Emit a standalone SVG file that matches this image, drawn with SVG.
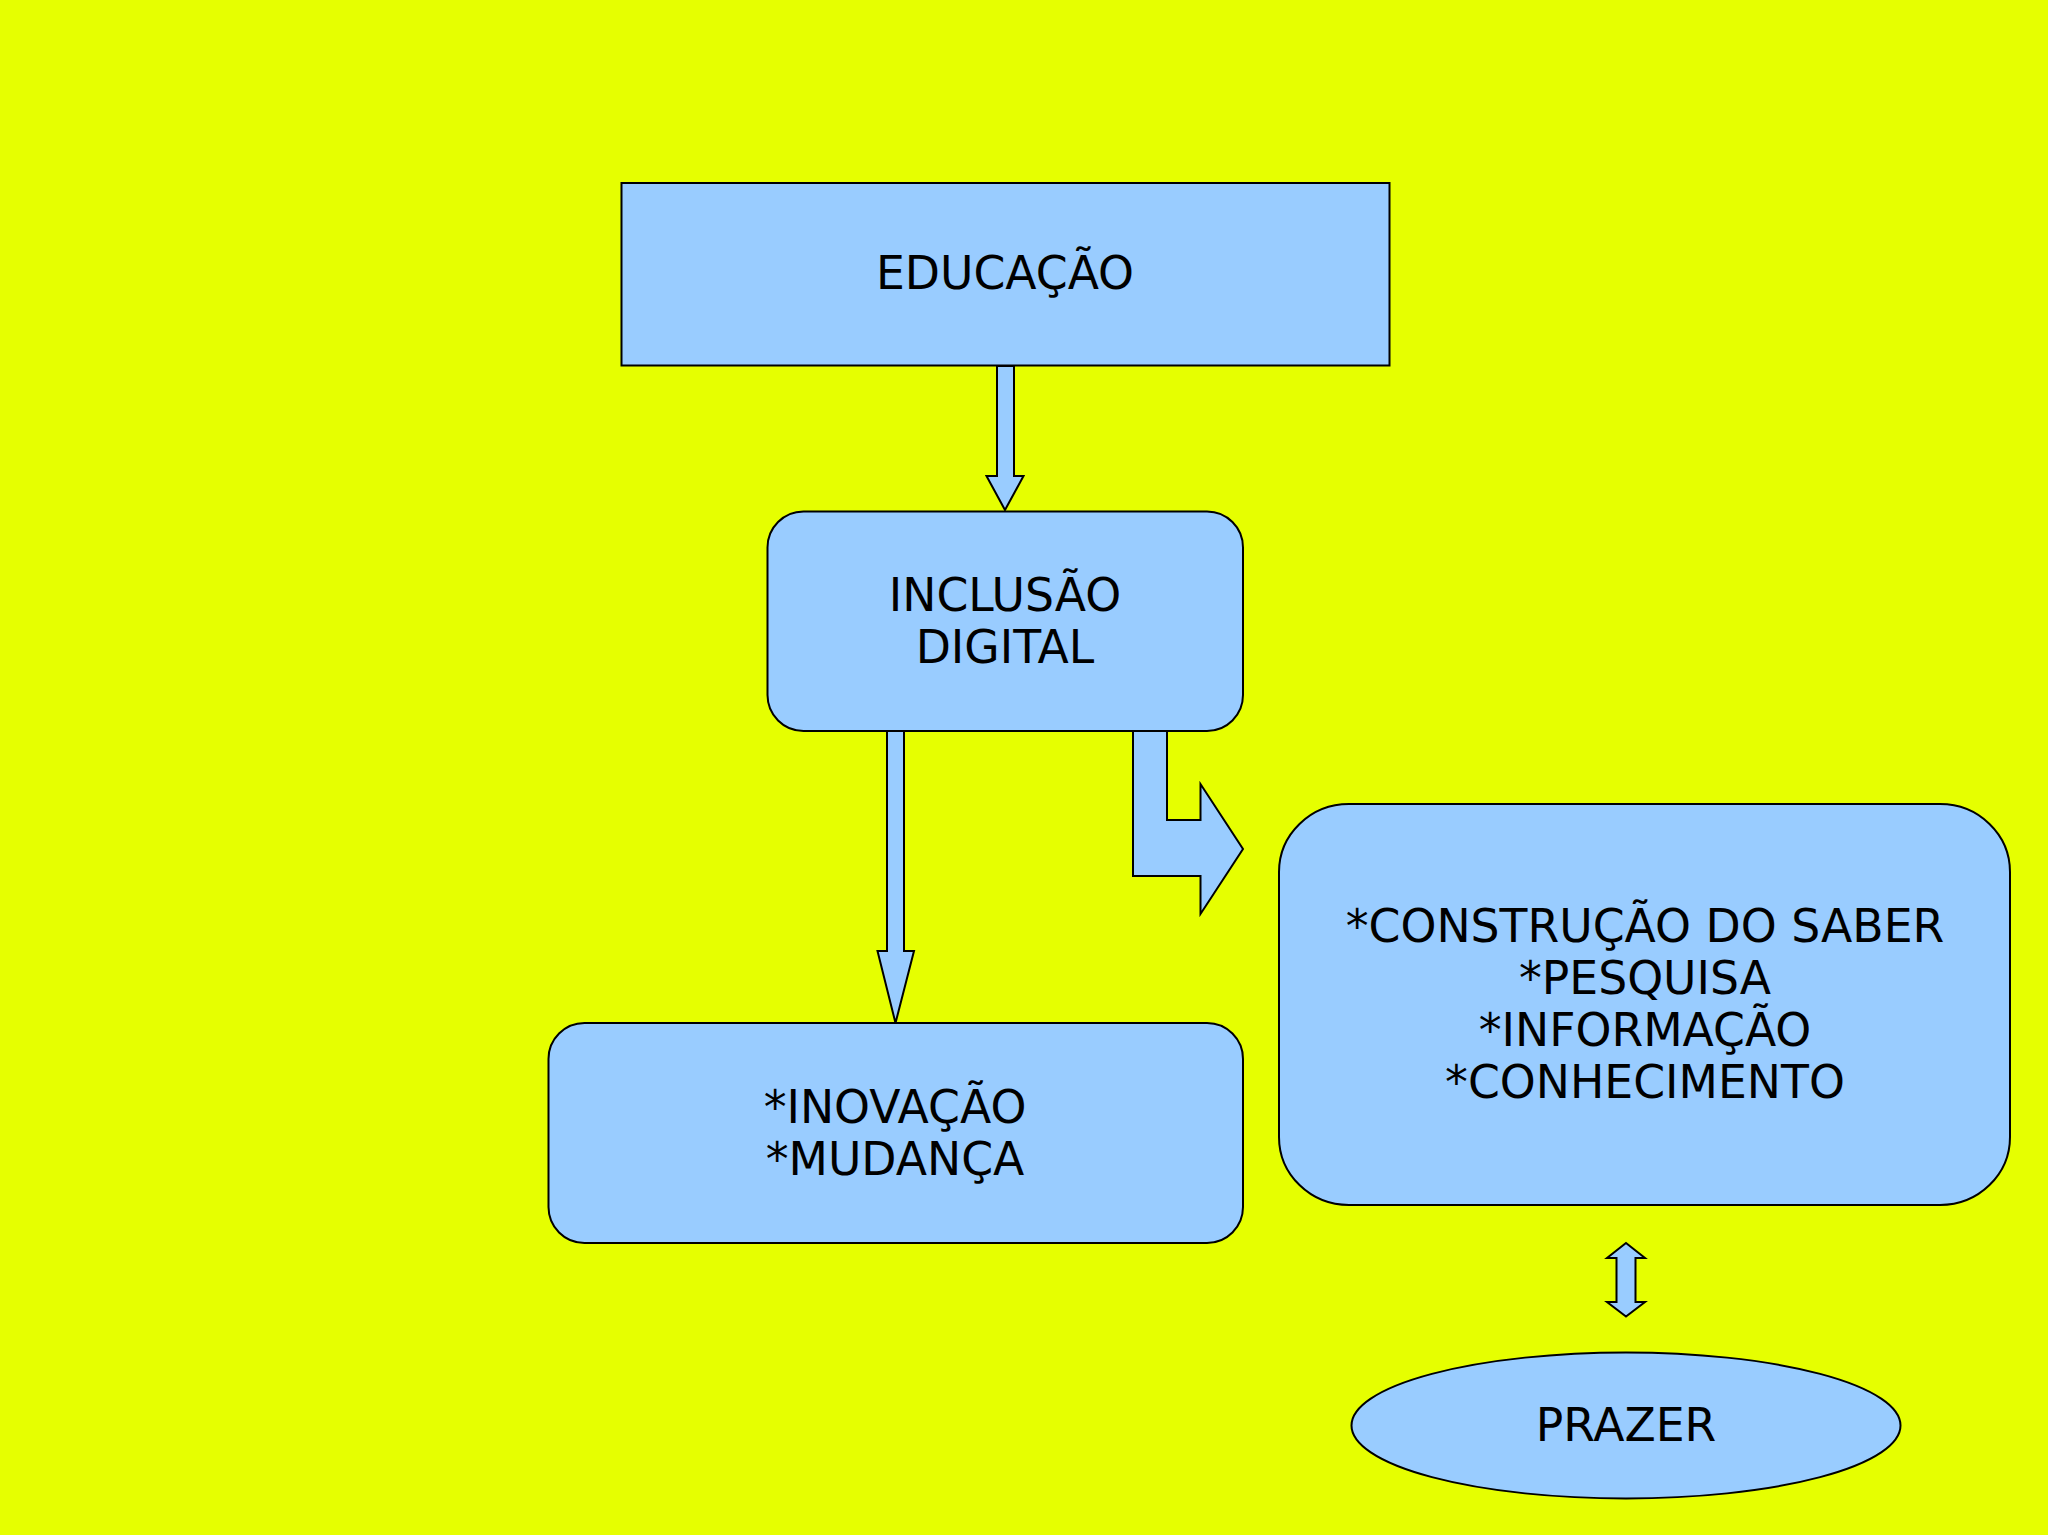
<svg xmlns="http://www.w3.org/2000/svg" width="2048" height="1535" viewBox="0 0 2048 1535">
<style>
.shape{fill:#99CCFF;stroke:#000;stroke-width:2;stroke-linejoin:miter}
.lbl{font-family:"DejaVu Sans",sans-serif;font-size:45.7px;fill:#000;text-anchor:middle}
</style>
<rect x="0" y="0" width="2048" height="1535" fill="#E6FF00"/>
<g id="connectors">
<path class="shape" d="M997,366 L1014,366 L1014,476 L1023.5,476 L1005,510 L986.5,476 L997,476 Z"/>
<path class="shape" d="M887,731 L904,731 L904,951 L914,951 L895.5,1023 L877.5,951 L887,951 Z"/>
<path class="shape" d="M1133,731 L1167,731 L1167,820 L1200.5,820 L1200.5,784 L1243,849 L1200.5,914 L1200.5,876 L1133,876 Z"/>
<path class="shape" d="M1626,1243 L1645,1258 L1635.5,1258 L1635.5,1302 L1645,1302 L1626,1316.5 L1607,1302 L1616.5,1302 L1616.5,1258 L1607,1258 Z"/>
</g>
<g id="educacao">
<rect class="shape" x="621.5" y="183" width="768" height="182.5"/>
<text class="lbl" x="1005" y="289">EDUCAÇÃO</text>
</g>
<g id="inclusao">
<rect class="shape" x="767.5" y="511.5" width="475.5" height="219.5" rx="36" ry="36"/>
<text class="lbl" x="1005" y="611">INCLUSÃO</text>
<text class="lbl" x="1005" y="663">DIGITAL</text>
</g>
<g id="inovacao">
<rect class="shape" x="548.5" y="1023" width="694.5" height="220" rx="36" ry="36"/>
<text class="lbl" x="895" y="1123">*INOVAÇÃO</text>
<text class="lbl" x="895" y="1175">*MUDANÇA</text>
</g>
<g id="construcao">
<rect class="shape" x="1279" y="804" width="731" height="401" rx="70" ry="68"/>
<text class="lbl" x="1645" y="942">*CONSTRUÇÃO DO SABER</text>
<text class="lbl" x="1645" y="994">*PESQUISA</text>
<text class="lbl" x="1645" y="1046">*INFORMAÇÃO</text>
<text class="lbl" x="1645" y="1098">*CONHECIMENTO</text>
</g>
<g id="prazer">
<ellipse class="shape" cx="1626" cy="1425.5" rx="274.5" ry="73"/>
<text class="lbl" x="1626" y="1441">PRAZER</text>
</g>
</svg>
